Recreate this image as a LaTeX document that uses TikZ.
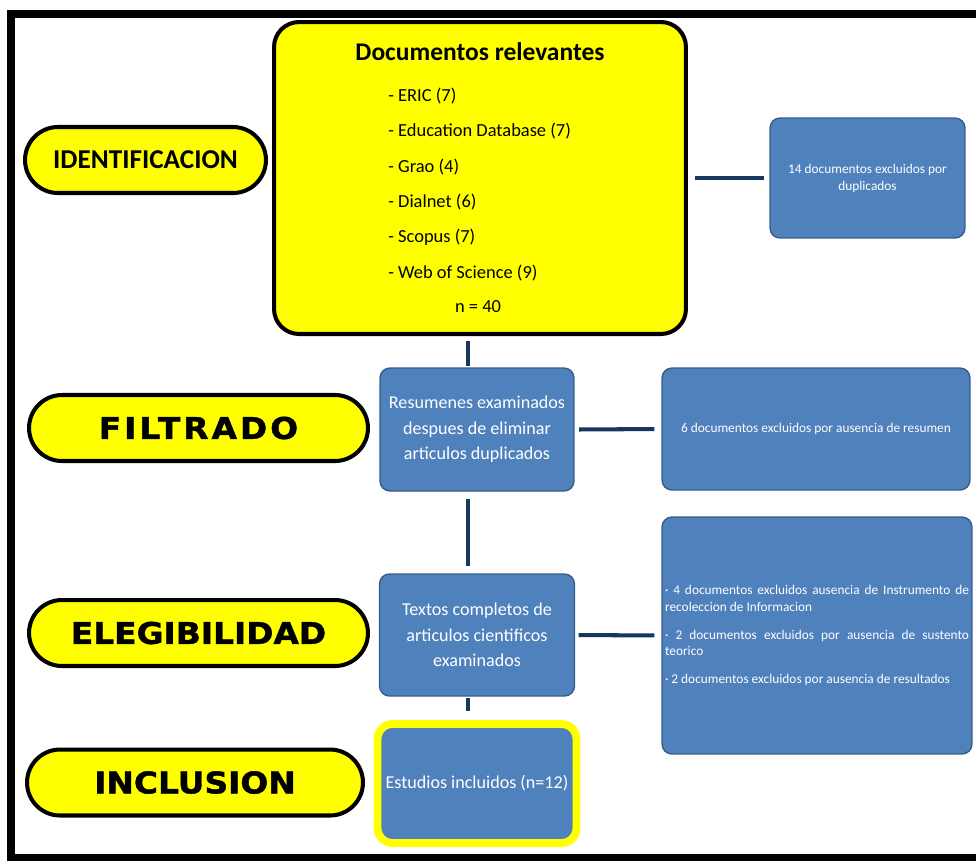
\documentclass[tikz,border=0pt]{standalone}
\usepackage{fontspec}
\setmainfont{Carlito}
\newfontfamily\stagefont[FakeStretch=1.1,FakeBold=1.5]{DejaVu Sans}
\usepackage{tikz}
\usetikzlibrary{shapes.misc}
\definecolor{boxblue}{HTML}{4F81BD}
\definecolor{boxedge}{HTML}{385D8A}
\definecolor{linknavy}{HTML}{17375E}
\definecolor{markyellow}{HTML}{FFFF00}

\begin{document}
\begin{tikzpicture}[x=0.02cm, y=-0.02cm,
    stage/.style={rounded rectangle, draw=black, line width=2.3pt, fill=markyellow,
      minimum width=6.78cm, minimum height=1.32cm, inner sep=0pt,
      font=\stagefont\bfseries\fontsize{17}{20}\selectfont},
    bluebox/.style={rectangle, rounded corners=0.2cm, draw=boxedge, line width=0.8pt,
      fill=boxblue, text=white, align=center, inner sep=2pt},
    link/.style={draw=linknavy, line width=2.3pt}]
    \useasboundingbox (0,0) rectangle (976,860);
    \draw[line width=4pt] (11,14) rectangle (1000,857);

    % stage labels
    \node[stage, minimum width=4.82cm, font=\bfseries\fontsize{15.5}{18}\selectfont] (ident) at (145.5,160) {IDENTIFICACION};
    \node[stage] (filt) at (198.5,428) {\addfontfeature{LetterSpace=10}FILTRADO};
    \node[stage] (eleg) at (198.5,633) {ELEGIBILIDAD};
    \node[stage, minimum width=6.72cm] (incl) at (195,782.5) {INCLUSION};

    % sources
    \node[draw=black, line width=2.3pt, fill=markyellow, rounded corners=0.5cm,
      minimum width=8.24cm, minimum height=6.24cm] (docs) at (480,178) {};
    \node[font=\bfseries\fontsize{14.5}{17}\selectfont] (docstitle) at (480,52) {Documentos relevantes};
    \foreach \src [count=\i] in {ERIC (7), Education Database (7), Grao (4), Dialnet (6), Scopus (7), Web of Science (9)}
      \node[anchor=west, inner sep=0pt, font=\fontsize{10.5}{12}\selectfont] (src\i) at (388,{96+35.4*(\i-1)}) {- \src};
    \node[font=\fontsize{10.5}{12}\selectfont] (total) at (478,307) {n = 40};

    % main column
    \node[bluebox, minimum width=3.88cm, minimum height=2.46cm, font=\fontsize{10.3}{14.5}\selectfont] (resum) at (477,429.5)
      {Resumenes examinados\\despues de eliminar\\articulos duplicados};
    \node[bluebox, minimum width=3.9cm, minimum height=2.44cm, font=\fontsize{10.3}{14.5}\selectfont] (textos) at (477,635)
      {Textos completos de\\articulos cientificos\\examinados};
    \node[bluebox, draw=markyellow, line width=4.5pt, rounded corners=0.3cm, minimum width=3.98cm, minimum height=2.38cm,
      font=\fontsize{10.3}{14.5}\selectfont] (estud) at (477,783.5) {Estudios incluidos (n=12)};

    % exclusions
    \node[bluebox, minimum width=3.9cm, minimum height=2.4cm, font=\fontsize{7.6}{9.6}\selectfont] (excl1) at (867.5,178)
      {14 documentos excluidos por\\duplicados};
    \node[bluebox, minimum width=6.16cm, minimum height=2.44cm, font=\fontsize{7.6}{9.6}\selectfont] (excl2) at (816,429)
      {6 documentos excluidos por ausencia de resumen};
    \node[bluebox, minimum width=6.2cm, minimum height=4.74cm, text width=6.08cm, inner sep=1pt, align=justify,
      font=\fontsize{7.6}{9.6}\selectfont] (excl3) at (817,635.5)
      {· 4 documentos excluidos ausencia de Instrumento de recoleccion de Informacion\par\vspace{6pt}
       · 2 documentos excluidos por ausencia de sustento teorico\par\vspace{6pt}
       · 2 documentos excluidos por ausencia de resultados};

    % connectors
    \draw[link, shorten <=4pt, shorten >=3pt] (docs.east) -- (excl1.west);
    \draw[link, shorten <=3pt, shorten >=1pt] ([xshift=-0.18cm]resum.north |- docs.south) -- ([xshift=-0.18cm]resum.north);
    \draw[link, shorten <=2.5pt, shorten >=4pt] (resum.east) -- (excl2.west);
    \draw[link, shorten <=4pt, shorten >=4pt] ([xshift=-0.18cm]resum.south) -- ([xshift=-0.18cm]textos.north);
    \draw[link, shorten <=2pt, shorten >=4pt] (textos.east) -- (excl3.west);
    \draw[link, shorten <=1pt, shorten >=5pt] ([xshift=-0.18cm]textos.south) -- ([xshift=-0.18cm]estud.north);
\end{tikzpicture}
\end{document}
